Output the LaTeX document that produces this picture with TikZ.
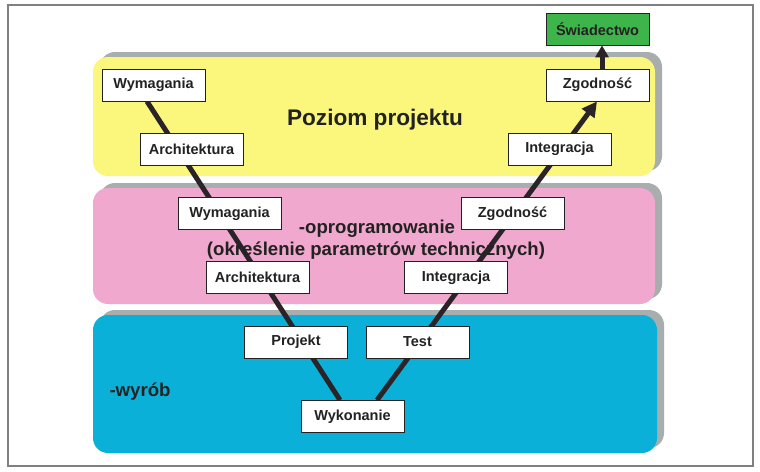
\documentclass[tikz,border=0pt]{standalone}
\usepackage{fontspec}
\setmainfont{Liberation Sans}
\usetikzlibrary{arrows.meta}
\definecolor{bandyellow}{HTML}{FAF77C}
\definecolor{bandpink}{HTML}{F0A8CE}
\definecolor{bandblue}{HTML}{0BB0D9}
\definecolor{shadowgray}{HTML}{A8ADAD}
\definecolor{certgreen}{HTML}{3DB54A}
\definecolor{textdark}{HTML}{222222}
\definecolor{linedark}{HTML}{2A2428}
\pgfdeclarelayer{bands}
\pgfdeclarelayer{lines}
\pgfsetlayers{bands,lines,main}
\tikzset{
  stagebox/.style={draw=textdark, line width=0.8pt, fill=white, minimum width=103pt, minimum height=32pt, inner sep=0pt, text=textdark, font=\bfseries\fontsize{14.5}{17}\selectfont},
  certbox/.style={stagebox, fill=certgreen},
  band/.style={rounded corners=15pt},
  bandshadow/.style={rounded corners=15pt, fill=shadowgray},
  vline/.style={draw=linedark, line width=5pt},
  bandtext/.style={text=textdark, font=\bfseries\fontsize{18.6}{22}\selectfont, anchor=base},
}
\begin{document}
\begin{tikzpicture}[x=1pt,y=-1pt]
\useasboundingbox (0,0) rectangle (760,471);
\begin{pgfonlayer}{bands}
  \fill[white] (0,0) rectangle (760,471);
  \draw[gray, line width=1.2pt] (8,5) rectangle (753,466);
  \fill[bandshadow] (100,52) rectangle (662,171);
  \fill[band, fill=bandyellow] (93,57) rectangle (655,176);
  \fill[bandshadow] (100,183) rectangle (662,299);
  \fill[band, fill=bandpink] (93,188) rectangle (655,304);
  \fill[bandshadow] (100,310) rectangle (664,448);
  \fill[band, fill=bandblue] (93,315) rectangle (657,453);
\end{pgfonlayer}
\node[text=textdark, font=\bfseries\fontsize{22.6}{26}\selectfont, anchor=base] (poziom) at (375,125) {Poziom projektu};
\node[bandtext] (oprog) at (377,233) {-oprogramowanie};
\node[bandtext] (param) at (376,255) {(określenie parametrów technicznych)};
\node[bandtext, anchor=base west] (wyrob) at (106,396) {-wyrób};
\node[stagebox] (w1) at (153.5,85) {Wymagania};
\node[stagebox] (a1) at (191.5,149) {Architektura};
\node[stagebox] (w2) at (229.5,213.5) {Wymagania};
\node[stagebox] (a2) at (257.5,277.5) {Architektura};
\node[stagebox] (pr) at (296,342) {Projekt};
\node[stagebox] (wk) at (352.5,416.5) {Wykonanie};
\node[stagebox] (te) at (417.5,342) {Test};
\node[stagebox] (i2) at (456,277.5) {Integracja};
\node[stagebox] (z2) at (512.5,213.5) {Zgodność};
\node[stagebox] (i1) at (559.5,149) {Integracja};
\node[stagebox] (z1) at (597.5,85) {Zgodność};
\node[certbox] (sw) at (597.5,29) {Świadectwo};
\begin{pgfonlayer}{lines}
  \draw[vline] ([xshift=-6.5pt]w1.south) -- ([xshift=-12.5pt]wk.north);
  \draw[vline, -{Triangle[width=15pt,length=15pt]}] ([xshift=24.5pt]wk.north) -- ([xshift=-0.5pt]z1.south);
  \draw[vline, -{Triangle[width=13pt,length=12pt]}] ([xshift=4.5pt]z1.north) -- ([xshift=4.5pt]sw.south);
\end{pgfonlayer}
\end{tikzpicture}
\end{document}
